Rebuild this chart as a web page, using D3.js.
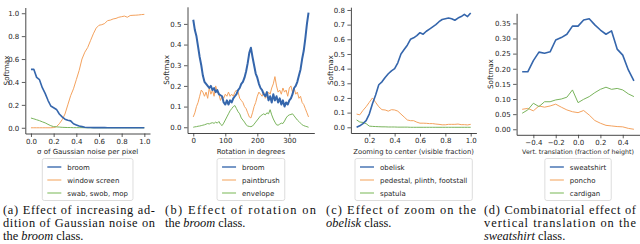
<!DOCTYPE html>
<html><head><meta charset="utf-8">
<script src="https://cdn.jsdelivr.net/npm/d3@7"></script>
<style>body{margin:0;background:#fff}svg{display:block}</style>
</head><body>
<svg id="c" width="640" height="244"></svg>
<script>
// ---------- DATA ----------
// (a) Gaussian noise
const noiseX = [0,0.025,0.05,0.075,0.1,0.125,0.15,0.175,0.2,0.225,0.25,0.275,0.3,0.325,0.35,0.375,0.4,0.425,0.45,0.475,0.5,0.525,0.55,0.575,0.6,0.625,0.65,0.675,0.7,0.725,0.75,0.775,0.8,0.825,0.85,0.875,0.9,0.925,0.95,0.975,1.0];
const noiseBroom = [0.51,0.51,0.44,0.42,0.35,0.30,0.24,0.19,0.175,0.16,0.12,0.095,0.075,0.065,0.06,0.035,0.025,0.015,0.01,0.005,0.003,0.002,0.001,0.001,0.001,0.001,0.001,0,0,0,0,0,0,0,0,0,0,0,0,0,0];
const noiseWindow = [0,0,0,0,0,0,0,0,0.002,0.01,0.035,0.07,0.12,0.2,0.28,0.34,0.42,0.5,0.6,0.66,0.7,0.76,0.82,0.87,0.895,0.9,0.91,0.935,0.94,0.95,0.955,0.965,0.97,0.975,0.965,0.98,0.982,0.983,0.985,0.988,0.99];
const noiseSwab = [0.085,0.078,0.07,0.062,0.052,0.043,0.03,0.018,0.01,0.008,0.006,0.004,0.003,0.002,0.002,0.001,0.001,0.001,0.001,0,0,0,0,0,0,0,0,0,0,0,0,0,0,0,0,0,0,0,0,0,0];
const noiseLabels = ["broom","window screen","swab, swob, mop"];

// (b) Rotation
const rotX = [0,5,10,15,20,25,30,35,40,45,50,55,60,65,70,75,80,85,90,95,100,105,110,115,120,125,130,135,140,145,150,155,160,165,170,175,180,185,190,195,200,205,210,215,220,225,230,235,240,245,250,255,260,265,270,275,280,285,290,295,300,305,310,315,320,325,330,335,340,345,350,355,360];
const rotBroom = [0.52,0.47,0.44,0.39,0.34,0.30,0.25,0.22,0.21,0.20,0.19,0.20,0.18,0.19,0.17,0.18,0.16,0.155,0.15,0.12,0.11,0.13,0.11,0.13,0.12,0.14,0.15,0.16,0.18,0.19,0.21,0.22,0.24,0.27,0.31,0.36,0.385,0.34,0.30,0.26,0.24,0.21,0.19,0.18,0.16,0.15,0.17,0.13,0.15,0.12,0.16,0.13,0.15,0.12,0.14,0.11,0.13,0.10,0.12,0.11,0.13,0.14,0.16,0.19,0.20,0.22,0.25,0.28,0.33,0.37,0.43,0.50,0.555];
const rotPaint = [0.05,0.07,0.10,0.12,0.15,0.18,0.17,0.15,0.17,0.14,0.19,0.16,0.18,0.15,0.20,0.17,0.16,0.13,0.15,0.14,0.16,0.15,0.17,0.15,0.16,0.15,0.17,0.18,0.17,0.14,0.13,0.12,0.10,0.09,0.07,0.05,0.045,0.07,0.10,0.12,0.15,0.17,0.16,0.15,0.17,0.14,0.15,0.17,0.16,0.19,0.21,0.245,0.20,0.17,0.18,0.16,0.19,0.17,0.18,0.15,0.19,0.20,0.17,0.19,0.16,0.17,0.14,0.15,0.12,0.11,0.09,0.07,0.05];
const rotEnv = [0,0.002,0.003,0.005,0.006,0.008,0.01,0.012,0.015,0.018,0.016,0.02,0.022,0.019,0.025,0.02,0.028,0.015,0.008,0.02,0.035,0.05,0.065,0.08,0.09,0.10,0.105,0.09,0.075,0.065,0.045,0.035,0.025,0.012,0.006,0.004,0.003,0.006,0.015,0.025,0.035,0.045,0.055,0.06,0.065,0.06,0.07,0.065,0.085,0.06,0.04,0.025,0.012,0.01,0.015,0.02,0.018,0.03,0.045,0.055,0.06,0.062,0.065,0.055,0.045,0.035,0.028,0.02,0.012,0.008,0.005,0.003,0];
const rotLabels = ["broom","paintbrush","envelope"];

// (c) Zoom
const zoomX = [0.1,0.125,0.15,0.175,0.2,0.225,0.25,0.275,0.3,0.325,0.35,0.375,0.4,0.425,0.45,0.475,0.5,0.525,0.55,0.575,0.6,0.625,0.65,0.675,0.7,0.725,0.75,0.775,0.8,0.825,0.85,0.875,0.9,0.925,0.95,0.975,1.0];
const zoomObelisk = [0,0.01,0.025,0.045,0.09,0.16,0.22,0.29,0.31,0.34,0.365,0.385,0.40,0.44,0.50,0.53,0.56,0.60,0.61,0.625,0.645,0.635,0.655,0.67,0.685,0.70,0.72,0.735,0.74,0.745,0.74,0.73,0.745,0.755,0.77,0.755,0.78];
const zoomPedestal = [0.09,0.085,0.115,0.14,0.17,0.2,0.17,0.14,0.12,0.118,0.11,0.12,0.118,0.11,0.09,0.07,0.05,0.045,0.045,0.035,0.028,0.028,0.027,0.025,0.025,0.022,0.02,0.017,0.017,0.02,0.02,0.02,0.022,0.018,0.018,0.016,0.02];
const zoomSpatula = [0.05,0.036,0.033,0.025,0.008,0.006,0.005,0.004,0.003,0.003,0.002,0.002,0.002,0.001,0.001,0.001,0.001,0,0,0,0,0,0,0,0,0,0,0,0,0,0,0,0,0,0,0,0];
const zoomLabels = ["obelisk","pedestal, plinth, footstall","spatula"];

// (d) Vertical translation
const transX = [-0.5,-0.45,-0.4,-0.35,-0.3,-0.25,-0.2,-0.15,-0.1,-0.05,0,0.05,0.1,0.15,0.2,0.25,0.3,0.35,0.4,0.45,0.5];
const transSweat = [0.19,0.19,0.227,0.255,0.251,0.256,0.295,0.303,0.314,0.341,0.341,0.361,0.365,0.345,0.328,0.314,0.325,0.265,0.245,0.196,0.16];
const transPoncho = [0.066,0.069,0.061,0.077,0.073,0.077,0.083,0.073,0.064,0.058,0.055,0.062,0.047,0.029,0.02,0.013,0.011,0.009,0.008,0.003,0.0];
const transCardigan = [0.053,0.064,0.086,0.075,0.091,0.091,0.097,0.1,0.106,0.13,0.088,0.099,0.108,0.121,0.132,0.139,0.132,0.135,0.13,0.117,0.108];
const transLabels = ["sweatshirt","poncho","cardigan"];

// tick values
const ticksA_x = [0,0.2,0.4,0.6,0.8,1.0], ticksA_y = [0,0.2,0.4,0.6,0.8,1.0];
const ticksB_x = [0,100,200,300], ticksB_y = [0,0.1,0.2,0.3,0.4,0.5];
const ticksC_x = [0.2,0.4,0.6,0.8,1.0], ticksC_y = [0,0.1,0.2,0.3,0.4,0.5,0.6,0.7,0.8];
const ticksD_x = [-0.4,-0.2,0,0.2,0.4], ticksD_y = [0,0.05,0.1,0.15,0.2,0.25,0.3,0.35];

// ---------- LAYOUT / STYLE ----------
const COLORS = ["#3566ac","#f4a25e","#79b45c"];
const LEGEND_COLORS = ["#4a76b4","#f7c08f","#a4cf8d"];
const WIDTHS = [1.6,1,1];

const panels = [
  {x:noiseX, ys:[noiseBroom,noiseWindow,noiseSwab], labels:noiseLabels,
   xd:[-0.05,1.05], xr:[25.3,150], yd:[-0.05,1.05], yr:[133.5,7.5],
   xt:ticksA_x, yt:ticksA_y, xf:d3.format(".1f"), yf:d3.format(".1f"),
   xlabel:"σ of Gaussian noise per pixel", xls:7, ylabelX:6},
  {x:rotX, ys:[rotBroom,rotPaint,rotEnv], labels:rotLabels, wb:2,
   xd:[-18,378], xr:[187.5,314.3], yd:[-0.02775,0.58275], yr:[133,6.8],
   xt:ticksB_x, yt:ticksB_y, xf:d3.format("d"), yf:d3.format(".1f"),
   xlabel:"Rotation in degrees", xls:7, ylabelX:166},
  {x:zoomX, ys:[zoomObelisk,zoomPedestal,zoomSpatula], labels:zoomLabels,
   xd:[0.055,1.045], xr:[350.9,476.4], yd:[-0.039,0.819], yr:[133,7.2],
   xt:ticksC_x, yt:ticksC_y, xf:d3.format(".1f"), yf:d3.format(".1f"),
   xlabel:"Zooming to center (visible fraction)", xls:6.8, ylabelX:330.5},
  {x:transX, ys:[transSweat,transPoncho,transCardigan], labels:transLabels,
   xd:[-0.55,0.55], xr:[516.6,639.5], yd:[-0.01825,0.38325], yr:[134.8,13.3],
   xt:ticksD_x, yt:ticksD_y, xf:d3.format(".1f"), yf:d3.format(".2f"),
   xlabel:"Vert. translation (fraction of height)", xls:6.3, ylabelX:490.5}
];

const captions = [
  {x0:3, x1:155, lines:[[["(a) Effect of increasing ad-",0]],[["dition of Gaussian noise on",0]],[["the ",0],["broom",1],[" class.",0]]]},
  {x0:165, x1:316, lines:[[["(b) Effect of rotation on",0]],[["the ",0],["broom",1],[" class.",0]]]},
  {x0:326, x1:476, lines:[[["(c) Effect of zoom on the",0]],[["obelisk",1],[" class.",0]]]},
  {x0:484, x1:636, lines:[[["(d) Combinatorial effect of",0]],[["vertical translation on the",0]],[["sweatshirt",1],[" class.",0]]]}
];

const svg = d3.select("#c");
const SANS = "DejaVu Sans, sans-serif";
const TXT = "#262626";

panels.forEach(p => {
  const x = d3.scaleLinear().domain(p.xd).range(p.xr);
  const y = d3.scaleLinear().domain(p.yd).range(p.yr);
  const g = svg.append("g");

  const order = [1,2,0];
  order.forEach(i => {
    const line = d3.line().x((d,j)=>x(p.x[j])).y(d=>y(d));
    g.append("path").datum(p.ys[i]).attr("d", line)
      .attr("fill","none").attr("stroke",COLORS[i])
      .attr("stroke-width", i===0 ? (p.wb||WIDTHS[0]) : WIDTHS[i])
      .attr("stroke-linejoin","round");
  });

  const ax = g.append("g").attr("transform",`translate(0,${p.yr[0]})`)
    .call(d3.axisBottom(x).tickValues(p.xt).tickFormat(p.xf).tickSize(3.5).tickSizeOuter(0).tickPadding(2));
  const ay = g.append("g").attr("transform",`translate(${p.xr[0]},0)`)
    .call(d3.axisLeft(y).tickValues(p.yt).tickFormat(p.yf).tickSize(3.5).tickSizeOuter(0).tickPadding(2.5));
  [ax,ay].forEach(a => {
    a.select(".domain").attr("stroke","#333").attr("stroke-width",0.9);
    a.selectAll(".tick line").attr("stroke","#333").attr("stroke-width",0.8);
    a.selectAll(".tick text").attr("fill",TXT).style("font-family",SANS).style("font-size","7px");
  });

  const cx = (p.xr[0]+p.xr[1])/2;
  g.append("text").attr("x",cx).attr("y",153.5).attr("text-anchor","middle")
    .style("font-family",SANS).style("font-size",p.xls+"px").attr("fill",TXT).text(p.xlabel);
  const cy = (p.yr[0]+p.yr[1])/2;
  g.append("text").attr("transform",`translate(${p.ylabelX+2.5},${cy}) rotate(-90)`)
    .attr("text-anchor","middle").style("font-family",SANS).style("font-size","7.2px")
    .attr("fill",TXT).text("Softmax");

  const lg = g.append("g");
  const texts = p.labels.map((t,i)=> lg.append("text").attr("y",167+i*13+2.6)
    .style("font-family",SANS).style("font-size","7px").attr("fill",TXT).text(t));
  const maxW = d3.max(texts, t=>t.node().getComputedTextLength());
  const boxW = 5+14+6+maxW+5;
  const bx = cx - boxW/2;
  lg.insert("rect",":first-child").attr("x",bx).attr("y",158.5).attr("width",boxW).attr("height",42)
    .attr("rx",2).attr("fill","#fff").attr("stroke","#d4d4d4").attr("stroke-width",0.8);
  texts.forEach((t,i)=>{
    t.attr("x",bx+25);
    lg.append("line").attr("x1",bx+5).attr("x2",bx+19).attr("y1",167+i*13).attr("y2",167+i*13)
      .attr("stroke",LEGEND_COLORS[i]).attr("stroke-width",1.5);
  });
});

captions.forEach(c => {
  c.lines.forEach((ln,li) => {
    const t = svg.append("text").attr("x",c.x0).attr("y",213.5+li*13.3)
      .style("font-family","Liberation Serif, serif").style("font-size","12.4px").attr("fill","#111");
    ln.forEach(([s,it]) => t.append("tspan").style("font-style", it ? "italic":"normal").text(s));
    if (li < c.lines.length-1) t.attr("textLength", c.x1-c.x0).attr("lengthAdjust","spacing");
  });
});
</script>
</body></html>
